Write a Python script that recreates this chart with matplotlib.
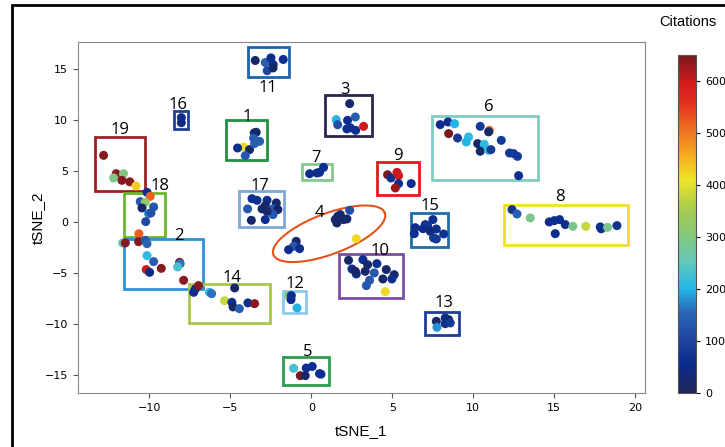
import numpy as np
import matplotlib
matplotlib.use("Agg")
import matplotlib.pyplot as plt
from matplotlib.colors import LinearSegmentedColormap
from matplotlib.patches import Rectangle

# papers: tSNE coordinates and citation counts, grouped by cluster
tsne_1 = [
    # 11
    -3.46, -2.84, -2.49, -2.35, -1.73, -2.72, -2.36,
    # 1
    -3.52, -3.40, -3.19, -4.18, -4.55, -3.81, -4.07, -3.56, -3.50,
    # 16
    -8.02, -8.02,
    # 3
    2.37, 1.54, 1.63, 2.24, 2.72, 2.20, 2.41, 2.74, 3.23,
    # 19
    -12.82, -12.04, -11.59, -12.20, -11.69, -11.20, -10.82,
    # 18
    -10.14, -9.94, -10.56, -10.25, -10.45, -9.73, -10.04, -9.90, -10.22,
    # 2
    -10.64, -11.65, -11.48, -10.66, -10.25, -10.14, -10.14, -9.73, -10.19, -9.98,
    -9.26, -8.13, -8.09, -8.25, -7.88,
    # 14
    -7.16, -7.26, -6.96, -6.28, -6.15, -5.35, -4.90, -4.83, -4.44, -4.73, -3.91, -3.50,
    # 17
    -3.66, -3.35, -2.73, -2.16, -3.93, -3.04, -2.84, -2.39, -2.06, -2.36, -2.84, -3.70, -2.73,
    # 7
    -0.10, 0.35, 0.51, 0.76,
    # 9
    4.71, 4.92, 5.29, 5.39, 5.39, 5.19, 6.17,
    # 6
    7.96, 8.44, 8.85, 8.48, 9.03, 9.71, 9.57, 10.43, 10.99, 10.95, 10.27, 10.68,
    10.43, 10.95, 11.09, 11.73, 12.24, 12.49, 12.73, 12.80,
    # 8
    12.39, 12.70, 13.52, 14.69, 15.00, 15.33, 15.68, 15.06, 16.15, 16.95, 17.84, 17.90,
    18.29, 18.87,
    # 15
    7.04, 7.51, 7.18, 6.90, 7.72, 7.35, 7.55, 7.72, 8.17, 6.42, 6.36,
    # 4
    1.63, 1.79, 1.48, 1.99, 2.20, 2.37, 1.58, 2.78, -0.93, -1.09, -1.40, -0.72,
    # 10
    2.30, 3.19, 3.48, 4.05, 2.51, 3.33, 3.89, 4.63, 2.78, 5.12, 4.42, 3.60, 4.98, 3.40,
    4.57, 2.72,
    # 12
    -1.40, -1.23, -1.25, -0.88,
    # 13
    7.72, 7.76, 8.27, 8.48, 8.27, 8.58,
    # 5
    -1.09, -0.31, 0.06, -0.68, -0.37, 0.51, 0.60,
]
tsne_2 = [
    # 11
    15.80, 15.60, 16.05, 15.40, 15.90, 14.80, 15.07,
    # 1
    8.70, 8.76, 7.87, 7.32, 7.22, 7.06, 6.47, 8.17, 7.65,
    # 16
    10.20, 9.70,
    # 3
    11.57, 10.00, 9.50, 9.93, 10.26, 9.09, 9.20, 8.95, 9.34,
    # 19
    6.50, 4.70, 4.70, 4.28, 4.05, 3.90, 3.50,
    # 18
    2.87, 2.48, 1.96, 1.89, 1.34, 1.44, 0.78, 0.85, 0.00,
    # 2
    -1.18, -2.09, -2.09, -1.96, -1.83, -2.16, -3.33, -3.92, -4.70, -4.97,
    -4.58, -3.99, -4.12, -4.44, -5.75,
    # 14
    -6.60, -6.93, -6.27, -6.93, -7.06, -7.75, -7.91, -8.36, -8.53, -6.50, -7.97, -8.04,
    # 17
    2.25, 2.09, 2.09, 1.83, 1.25, 1.25, 1.57, 1.25, 1.18, 0.69, 0.20, 0.13, 1.01,
    # 7
    4.70, 4.77, 4.83, 5.32,
    # 9
    4.60, 4.28, 4.83, 4.51, 3.73, 3.30, 3.73,
    # 6
    9.51, 9.77, 9.60, 8.63, 8.20, 8.30, 7.81, 9.34, 8.95, 8.80, 7.65, 7.58,
    6.90, 6.99, 7.06, 7.97, 6.73, 6.67, 6.40, 4.51,
    # 8
    1.18, 0.75, 0.36, -0.03, 0.10, 0.20, -0.29, -1.18, -0.46, -0.46, -0.52, -0.70,
    -0.56, -0.39,
    # 15
    -0.29, 0.20, -0.39, -0.69, -0.72, -0.95, -1.60, -1.70, -1.21, -0.59, -1.18,
    # 4
    0.52, 0.69, 0.20, 0.20, 0.26, 1.11, -0.13, -1.67, -1.93, -2.42, -2.75, -2.65,
    # 10
    -3.79, -3.73, -4.22, -4.12, -4.64, -4.87, -5.03, -4.70, -5.13, -5.20, -5.62, -5.75,
    -5.62, -6.27, -6.86, -4.87,
    # 12
    -7.25, -7.25, -7.65, -8.46,
    # 13
    -9.77, -10.36, -9.44, -9.61, -10.00, -9.93,
    # 5
    -14.38, -14.35, -14.20, -15.10, -15.10, -14.90, -14.95,
]
citations = [
    # 11
    15, 140, 60, 60, 60, 100, 20,
    # 1
    60, 20, 140, 420, 60, 20, 130, 140, 140,
    # 16
    60, 40,
    # 3
    20, 200, 120, 60, 140, 60, 60, 60, 600,
    # 19
    640, 640, 300, 290, 640, 640, 430,
    # 18
    60, 520, 130, 320, 20, 130, 170, 120, 110,
    # 2
    520, 260, 640, 640, 130, 150, 210, 140, 600, 50,
    640, 640, 160, 230, 640,
    # 14
    50, 60, 640, 200, 160, 380, 60, 15, 140, 20, 60, 640,
    # 17
    60, 60, 60, 20, 130, 20, 20, 130, 20, 130, 60, 20, 20,
    # 7
    60, 60, 60, 60,
    # 9
    650, 60, 600, 600, 60, 630, 60,
    # 6
    60, 60, 200, 650, 80, 210, 200, 80, 520, 20, 20, 210,
    20, 210, 80, 80, 80, 80, 80, 60,
    # 8
    70, 140, 290, 60, 60, 60, 60, 60, 290, 380, 60, 60,
    290, 70,
    # 15
    60, 60, 70, 60, 60, 40, 80, 80, 70, 60, 60,
    # 4
    20, 20, 20, 20, 20, 120, 20, 420, 20, 130, 60, 60,
    # 10
    20, 60, 20, 60, 60, 20, 130, 20, 60, 20, 20, 130, 60, 130,
    420, 20,
    # 12
    300, 60, 60, 200,
    # 13
    20, 180, 60, 20, 60, 80,
    # 5
    230, 60, 60, 650, 20, 60, 60,
]

# cluster boxes (data coordinates) and their label positions
box_labels = ["11", "1", "16", "3", "19", "18", "2", "14", "17", "7", "9",
              "6", "8", "15", "10", "12", "13", "5"]
box_x0 = [-3.90, -5.25, -8.46, 0.84, -13.33, -11.56, -11.56, -7.53, -4.49, -0.60,
          4.05, 7.47, 11.87, 6.17, 1.69, -1.75, 7.04, -1.75]
box_x1 = [-1.36, -2.72, -7.60, 3.77, -10.29, -9.00, -6.69, -2.53, -1.67, 1.31,
          6.67, 14.00, 19.55, 8.46, 5.66, -0.31, 9.14, 1.11]
box_y0 = [14.20, 6.00, 9.10, 8.36, 2.97, -1.47, -6.60, -9.90, -0.52, 4.05,
          2.58, 4.10, -2.25, -2.45, -7.45, -8.95, -11.08, -15.98]
box_y1 = [17.10, 10.00, 10.80, 12.42, 8.30, 2.84, -1.67, -6.08, 3.00, 5.69,
          5.85, 10.40, 1.67, 0.88, -3.14, -6.83, -8.89, -13.27]
box_colors = ["#1f62b0", "#22903e", "#1f3f90", "#2b2650", "#a01f24", "#6cb530",
              "#2b93d6", "#a9c64d", "#80a7d6", "#82c98e", "#e41a1c", "#80cbc4",
              "#f0e024", "#1f6ea3", "#7a4ea4", "#8fcaee", "#1f3d98", "#2f9a4f"]
label_x = [-2.65, -3.97, -8.20, 2.08, -11.83, -9.32, -8.17, -4.90, -3.15, 0.31,
           5.33, 10.93, 15.37, 7.35, 4.26, -1.00, 8.17, -0.23]
label_y = [13.10, 10.26, 11.40, 12.94, 8.95, 3.46, -1.37, -5.52, 3.46, 6.27,
           6.47, 11.20, 2.42, 1.57, -2.91, -6.08, -7.97, -12.80]

# cluster 4 is marked with an ellipse: centre, semi-axis vectors
ell_center = (1.10, -1.19)
ell_major = (3.44, 2.05)
ell_minor = (0.44, -1.87)

cmap = LinearSegmentedColormap.from_list("cites", [
    (0.00, "#1e2656"), (0.08, "#0b2b8c"), (0.16, "#1e46a2"), (0.24, "#2b68b6"),
    (0.31, "#24b8e8"), (0.39, "#64c8b8"), (0.47, "#86c87a"), (0.55, "#aacd4c"),
    (0.63, "#ece626"), (0.70, "#f4b020"), (0.78, "#ee7020"), (0.86, "#e43020"),
    (0.92, "#d41a1c"), (1.00, "#781a1e")])

fig = plt.figure(figsize=(7.25, 4.47), dpi=100)
ax = fig.add_axes([0.1076, 0.1208, 0.782, 0.785])

sc = ax.scatter(tsne_1, tsne_2, c=citations, cmap=cmap, vmin=0, vmax=650,
                s=42, linewidths=0, zorder=3)

for lab, x0, x1, y0, y1, col, lx, ly in zip(box_labels, box_x0, box_x1, box_y0,
                                            box_y1, box_colors, label_x, label_y):
    ax.add_patch(Rectangle((x0, y0), x1 - x0, y1 - y0, fill=False,
                           edgecolor=col, linewidth=2, zorder=2))
    ax.text(lx, ly, lab, ha="center", va="center", fontsize=12,
            family="Open Sans", zorder=4)

t = np.linspace(0, 2 * np.pi, 200)
ex = ell_center[0] + ell_major[0] * np.cos(t) + ell_minor[0] * np.sin(t)
ey = ell_center[1] + ell_major[1] * np.cos(t) + ell_minor[1] * np.sin(t)
ax.plot(ex, ey, color="#e2541c", lw=1.5, zorder=2)
ax.text(0.48, 0.83, "4", ha="center", va="center", fontsize=12,
        family="Open Sans", zorder=4)

ax.set_xlim(-14.4, 20.6)
ax.set_ylim(-16.8, 17.6)
ax.set_xticks([-10, -5, 0, 5, 10, 15, 20])
ax.set_yticks([-15, -10, -5, 0, 5, 10, 15])
ax.tick_params(labelsize=8, color="#555555", length=3.5)
for sp in ax.spines.values():
    sp.set_color("#888888")
ax.set_xlabel("tSNE_1", fontsize=11, family="Liberation Sans", labelpad=8)
ax.set_ylabel("tSNE_2", fontsize=11, family="Liberation Sans", labelpad=0)

cax = fig.add_axes([0.935, 0.1208, 0.025, 0.756])
cb = fig.colorbar(sc, cax=cax, ticks=[0, 100, 200, 300, 400, 500, 600])
cb.ax.tick_params(labelsize=8, length=3)
cb.outline.set_edgecolor("#555555")
fig.text(0.949, 0.95, "Citations", ha="center", va="center", fontsize=10.5,
         family="Liberation Sans")

# outer frame around the figure
fig.add_artist(Rectangle((12 / 725, -0.1), 1.2, 1.1 - 5 / 447,
                         transform=fig.transFigure, fill=False,
                         edgecolor="black", linewidth=2))

fig.savefig("out.png", dpi=100)
